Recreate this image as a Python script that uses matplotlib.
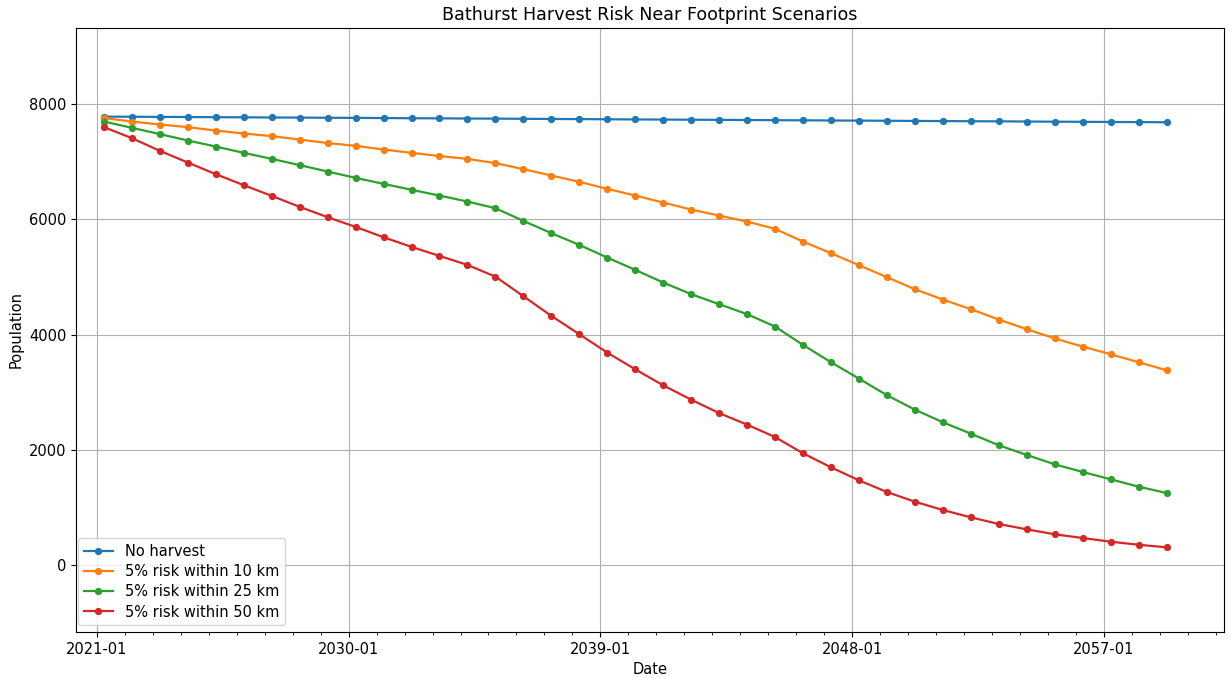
import datetime as dt

import matplotlib
matplotlib.use("Agg")
import matplotlib.pyplot as plt
import matplotlib.dates as mdates

plt.rcParams.update({"font.size": 10.5, "axes.titlesize": 12.6,
                     "lines.linewidth": 1.6})

# yearly projection points
years = list(range(2021, 2060))
dates = [dt.date(y, 4, 1) for y in years]

no_harvest = [7778, 7776, 7773, 7771, 7768, 7766, 7763, 7761, 7758, 7756,
              7753, 7750, 7748, 7745, 7743, 7740, 7737, 7735, 7732, 7729,
              7727, 7724, 7722, 7719, 7716, 7714, 7711, 7709, 7706, 7703,
              7701, 7698, 7696, 7693, 7690, 7688, 7685, 7683, 7680]
risk_10km = [7752, 7693, 7641, 7596, 7537, 7485, 7440, 7381, 7319, 7272,
             7208, 7150, 7095, 7046, 6972, 6868, 6757, 6648, 6526, 6410,
             6289, 6167, 6063, 5959, 5833, 5612, 5411, 5203, 4995, 4787,
             4607, 4441, 4261, 4094, 3934, 3792, 3660, 3521, 3382]
risk_25km = [7693, 7584, 7475, 7364, 7260, 7150, 7046, 6937, 6826, 6717,
             6613, 6509, 6410, 6306, 6191, 5971, 5758, 5555, 5335, 5122,
             4902, 4701, 4527, 4354, 4139, 3821, 3521, 3237, 2949, 2699,
             2481, 2283, 2082, 1914, 1752, 1619, 1492, 1364, 1255]
risk_50km = [7596, 7405, 7185, 6982, 6781, 6590, 6405, 6214, 6035, 5867,
             5688, 5520, 5364, 5208, 5005, 4665, 4324, 4007, 3688, 3398,
             3121, 2872, 2640, 2439, 2224, 1943, 1700, 1474, 1272, 1104,
             960, 833, 717, 625, 539, 475, 410, 358, 313]

labels = ["No harvest", "5% risk within 10 km",
          "5% risk within 25 km", "5% risk within 50 km"]
major_years = [2021, 2030, 2039, 2048, 2057]

fig = plt.figure(figsize=(12.31, 6.78), dpi=100)
ax = fig.add_axes([0.0617, 0.0678, 0.9326, 0.891])

for series, label in zip([no_harvest, risk_10km, risk_25km, risk_50km], labels):
    ax.plot(dates, series, marker="o", markersize=4.2, label=label)

ax.set_xticks([dt.date(y, 1, 1) for y in major_years])
ax.xaxis.set_major_formatter(mdates.DateFormatter("%Y-%m"))
ax.xaxis.set_minor_locator(mdates.YearLocator(1))
ax.set_xlim(dt.date(2020, 4, 1), dt.date(2061, 4, 20))
ax.set_ylim(-1155, 9315)

ax.set_title("Bathurst Harvest Risk Near Footprint Scenarios")
ax.set_xlabel("Date")
ax.set_ylabel("Population")
ax.grid(True)
ax.legend(loc="lower left", bbox_to_anchor=(0.0017, 0.011),
          borderaxespad=0, labelspacing=0.35)

fig.savefig("out.png", dpi=100)
